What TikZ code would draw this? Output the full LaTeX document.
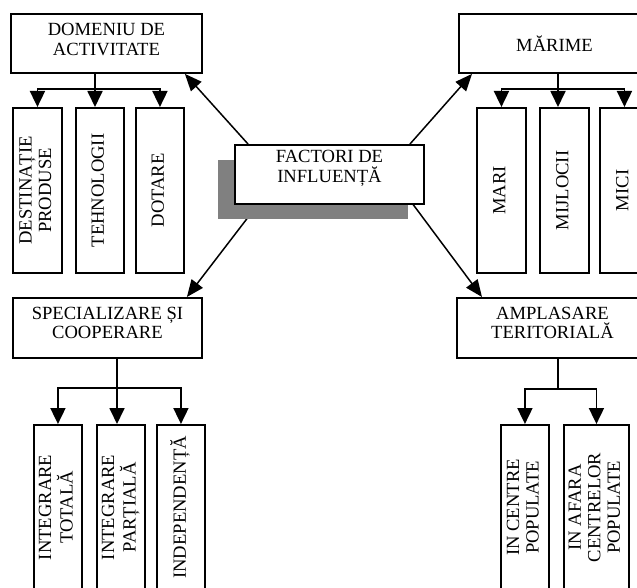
\documentclass[tikz,border=0pt]{standalone}
\usepackage{fontspec}
\setmainfont{Liberation Serif}
\usetikzlibrary{arrows.meta,calc}
\newcommand\vtxt[1]{\rotatebox{90}{\begin{tabular}{@{}c@{}}#1\end{tabular}}}
\begin{document}
\begin{tikzpicture}[x=1pt,y=-1pt,
  txt/.style={font=\fontsize{18.6}{19.5}\selectfont},
  box/.style={draw, line width=1.9pt, fill=white, inner sep=0pt, align=center, anchor=north west, txt},
  conn/.style={line width=1.8pt},
  arr/.style={line width=1.8pt, -{Triangle[length=16pt,width=15pt]}},
  diag/.style={line width=1.5pt, -{Triangle[length=17pt,width=14pt]}},
  shadowbox/.style={fill=black!50, draw=none}
]
\useasboundingbox (0,0) rectangle (637,588);
\begin{scope}
\clip (0,0) rectangle (637,588);

% main category boxes
\node[box, minimum width=191pt, minimum height=59pt, text depth=8pt] (dom) at (10,13) {DOMENIU DE\\ACTIVITATE};
\node[box, minimum width=191pt, minimum height=59pt] (mar) at (458,13) {MĂRIME};
\node[box, minimum width=189pt, minimum height=60pt, text depth=10pt] (spe) at (12,297) {SPECIALIZARE ȘI\\COOPERARE};
\node[box, minimum width=191pt, minimum height=60pt, text depth=10pt] (amp) at (456,297) {AMPLASARE\\TERITORIALĂ};

% children of DOMENIU DE ACTIVITATE
\node[box, minimum width=49pt, minimum height=165pt] (c1) at (12,107) {\vtxt{DESTINAȚIE\\PRODUSE}};
\node[box, minimum width=48pt, minimum height=165pt] (c2) at (75,107) {\vtxt{TEHNOLOGII}};
\node[box, minimum width=48pt, minimum height=165pt] (c3) at (135,107) {\vtxt{DOTARE}};

% children of MARIME
\node[box, minimum width=49pt, minimum height=165pt] (m1) at (476,107) {\vtxt{MARI}};
\node[box, minimum width=49pt, minimum height=165pt] (m2) at (539,107) {\vtxt{MIJLOCII}};
\node[box, minimum width=49pt, minimum height=165pt] (m3) at (599,107) {\vtxt{MICI}};

% children of SPECIALIZARE
\node[box, minimum width=48pt, minimum height=165pt] (s1) at (33,424) {\vtxt{INTEGRARE\\TOTALĂ}};
\node[box, minimum width=48pt, minimum height=165pt] (s2) at (96,424) {\vtxt{INTEGRARE\\PARȚIALĂ}};
\node[box, minimum width=48pt, minimum height=165pt] (s3) at (156,424) {\vtxt{INDEPENDENȚĂ}};

% children of AMPLASARE
\node[box, minimum width=48pt, minimum height=165pt] (a1) at (500,424) {\vtxt{IN CENTRE\\POPULATE}};
\node[box, minimum width=65pt, minimum height=165pt] (a2) at (563,424) {\vtxt{IN AFARA\\CENTRELOR\\POPULATE}};

% tree connectors
\coordinate (j1) at (95,89);
\draw[conn] (j1 |- dom.south) -- (j1);
\draw[arr] (j1) -| (c1.north);
\draw[arr] (j1) -- (j1 |- c2.north);
\draw[arr] (j1) -| (c3.north);

\coordinate (j2) at (558,89);
\draw[conn] (j2 |- mar.south) -- (j2);
\draw[arr] (j2) -| (m1.north);
\draw[arr] (j2) -- (j2 |- m2.north);
\draw[arr] (j2) -| (m3.north);

\coordinate (j3) at (117,388);
\draw[conn] (j3 |- spe.south) -- (j3);
\draw[arr] (j3) -| (s1.north);
\draw[arr] (j3) -- (j3 |- s2.north);
\draw[arr] (j3) -| (s3.north);

\coordinate (j4) at (558,389);
\draw[conn] (j4 |- amp.south) -- (j4);
\draw[arr] (j4) -| (a1.north);
\draw[arr] (j4) -| (a2.north);

% central node and diagonal arrows
\coordinate (fac0) at (234,144);
\coordinate (ftl) at (248,144);
\coordinate (ftr) at (410,144);
\coordinate (fbl) at (259,203);
\coordinate (fbr) at (412,203);
\draw[diag] (ftl) -- ($(dom.south east)+(-18,0)$);
\draw[diag] (ftr) -- ($(mar.south west)+(14,0)$);
\draw[diag] (fbl) -- ($(spe.north east)+(-16,0)$);
\draw[diag] (fbr) -- ($(amp.north west)+(26,0)$);

\fill[shadowbox] (218,160) rectangle (408,219);
\node[box, minimum width=189pt, minimum height=59pt, text depth=16pt] (fac) at (fac0) {FACTORI DE\\INFLUENȚĂ};
\end{scope}
\end{tikzpicture}
\end{document}
